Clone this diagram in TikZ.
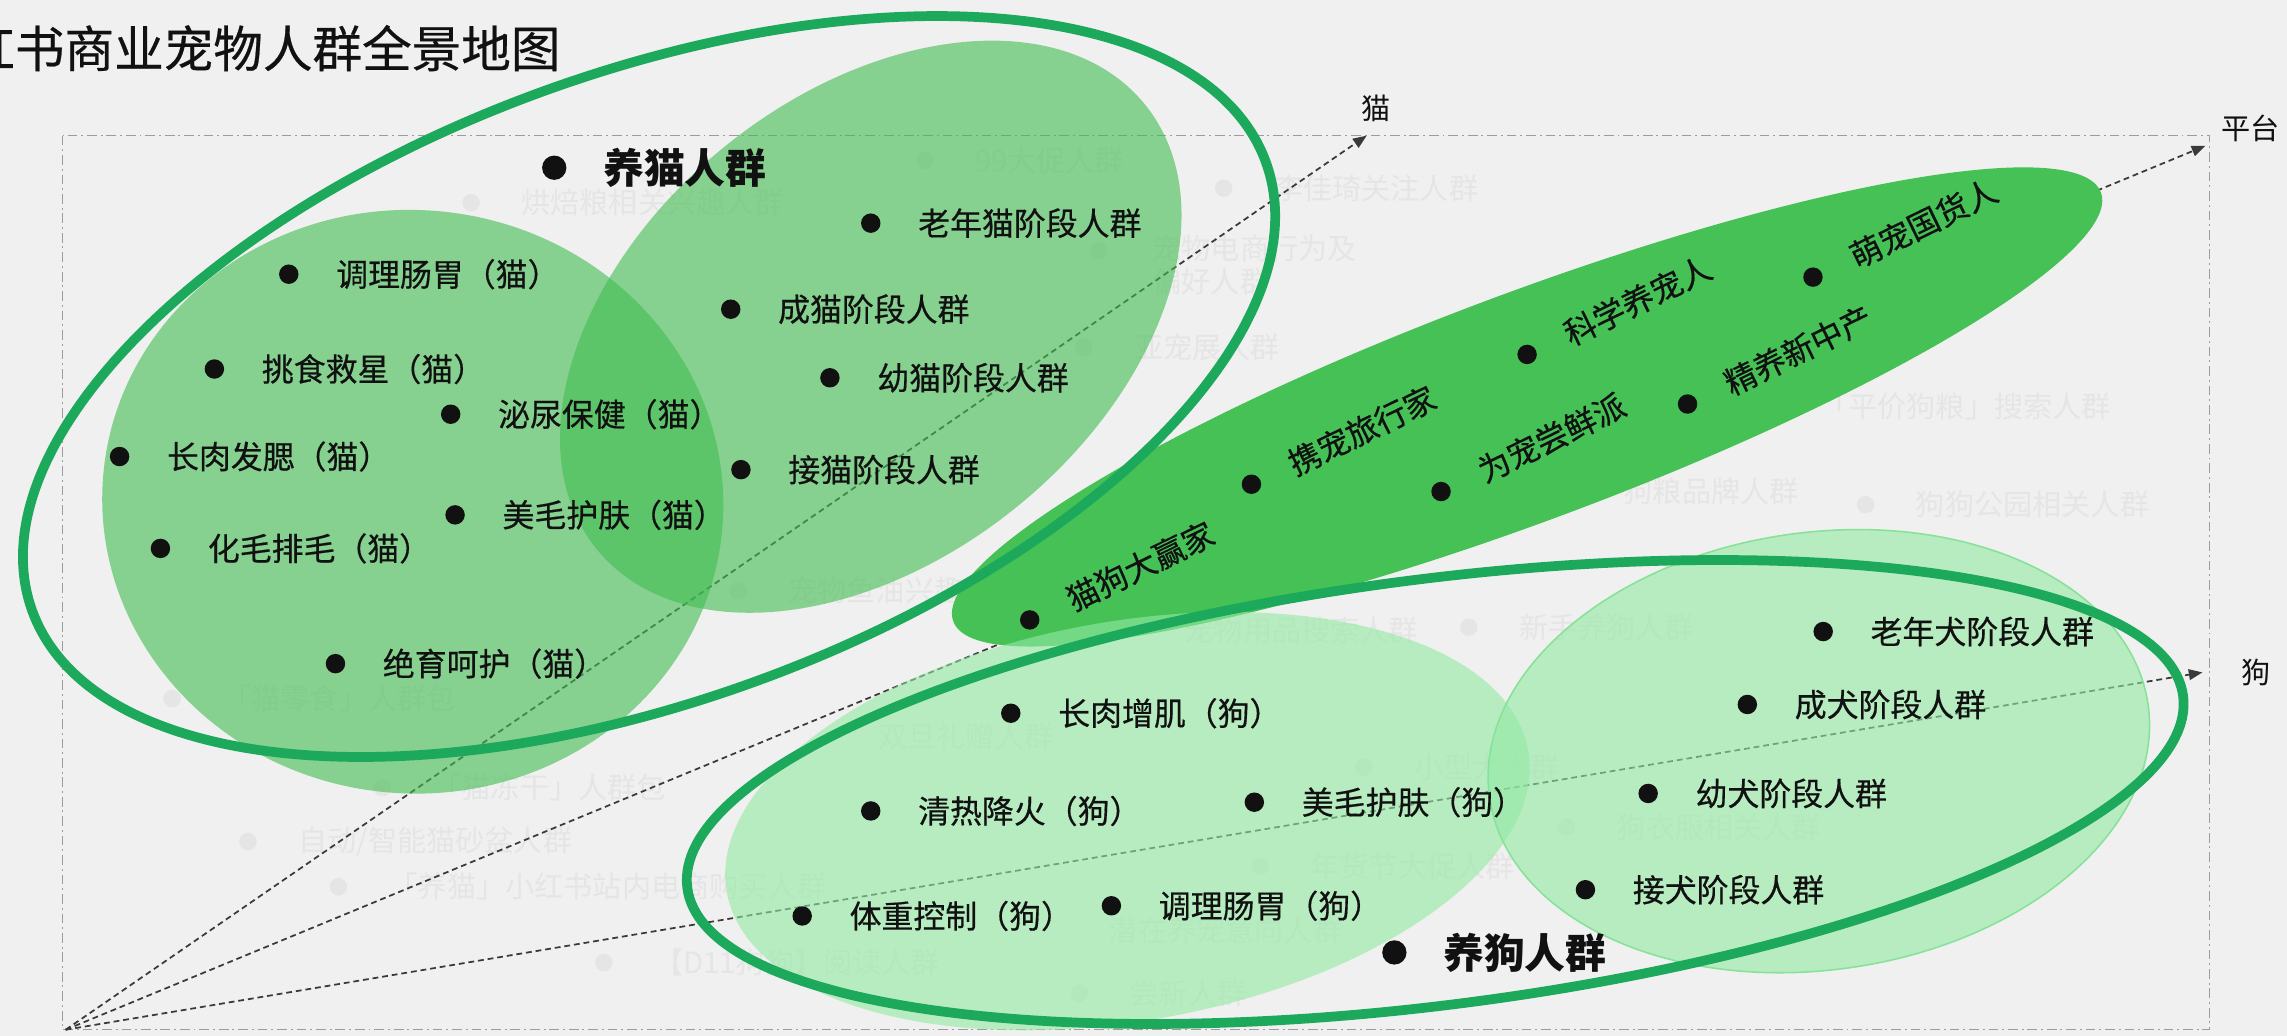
\documentclass[tikz,border=0pt]{standalone}
\usepackage{fontspec}
\setmainfont{Noto Sans CJK SC}
\newfontfamily\labelfont{Noto Sans CJK SC}[FakeBold=0.5]
\usetikzlibrary{arrows.meta, positioning}
\definecolor{petBg}{HTML}{F0F0F0}
\definecolor{petRing}{HTML}{1CA95B}
\definecolor{petCat}{HTML}{40BD51}
\definecolor{petMid}{HTML}{45C156}
\definecolor{petDog}{HTML}{92EAA3}
\definecolor{petDogEdge}{HTML}{86E298}
\definecolor{petFaint}{HTML}{E5E5E5}
\definecolor{petFrame}{HTML}{9C9C9C}
\definecolor{petInk}{HTML}{111111}
\definecolor{petAxis}{HTML}{3A3A3A}

\begin{document}
\begin{tikzpicture}[x=0.75pt, y=-0.75pt,
    dot/.style={circle, fill=petInk, inner sep=0pt, minimum size=10pt},
    bigdot/.style={dot, minimum size=12.5pt},
    lbl/.style={font=\labelfont\fontsize{16.4}{18}\selectfont, text=petInk, inner sep=0pt},
    biglbl/.style={lbl, font=\fontsize{21}{24}\selectfont\bfseries},
    tilt/.style={lbl, rotate=26, anchor=west},
    faint/.style={font=\fontsize{15}{17}\selectfont, text=petFaint, inner sep=0pt, anchor=west, align=left},
    fdot/.style={circle, fill=petFaint, inner sep=0pt, minimum size=9pt},
    axisline/.style={draw=petAxis, line width=0.9pt, dash pattern=on 3pt off 2pt, -{Triangle[length=7pt, width=5.5pt]}},
    axlbl/.style={font=\fontsize{15}{17}\selectfont, text=petInk, inner sep=0pt},
    ring/.style={draw=petRing, line width=5pt}]
  \useasboundingbox (0,0) rectangle (1568,710);
  \clip (0,0) rectangle (1568,710);
  \fill[petBg] (0,0) rectangle (1568,710);

  \node[font=\labelfont\fontsize{25.5}{28}\selectfont, text=petInk, inner sep=0pt, anchor=west] (title) at (-24,33) {红书商业宠物人群全景地图};

  % faded background groups
  \node[fdot] (f1) at (634,110) {};
  \node[faint, right=21pt of f1] (f1Lbl) {99大促人群};
  \node[fdot] (f2) at (839,129) {};
  \node[faint, right=21pt of f2] (f2Lbl) {李佳琦关注人群};
  \node[fdot] (f3) at (753,172) {};
  \node[faint, anchor=north west] (f3Lbl) at (790,161) {宠物电商行为及\\偏好人群};
  \node[fdot] (f4) at (743,238) {};
  \node[faint, right=21pt of f4] (f4Lbl) {亚宠展人群};
  \node[faint] (f5Lbl) at (1247,279) {「平价狗粮」搜索人群};
  \node[faint] (f6Lbl) at (1113,337) {狗粮品牌人群};
  \node[fdot] (f7) at (1279,346) {};
  \node[faint, right=21pt of f7] (f7Lbl) {狗狗公园相关人群};
  \node[fdot] (f8) at (1007,430) {};
  \node[faint, right=21pt of f8] (f8Lbl) {新手养狗人群};
  \node[faint] (f9Lbl) at (812,432) {宠物用品搜索人群};
  \node[fdot] (f10) at (935,526) {};
  \node[faint, right=21pt of f10] (f10Lbl) {小型犬人群};
  \node[fdot] (f11) at (1074,567) {};
  \node[faint, right=21pt of f11] (f11Lbl) {狗衣服相关人群};
  \node[fdot] (f12) at (864,594) {};
  \node[faint, right=21pt of f12] (f12Lbl) {年货节大促人群};
  \node[faint] (f13Lbl) at (760,638) {潜在养宠意向人群};
  \node[fdot] (f14) at (740,681) {};
  \node[faint, right=21pt of f14] (f14Lbl) {尝新人群};
  \node[faint] (f15Lbl) at (602,505) {双旦礼赠人群};
  \node[fdot] (f16) at (170,577) {};
  \node[faint, right=21pt of f16] (f16Lbl) {自动/智能猫砂盆人群};
  \node[fdot] (f17) at (232,608) {};
  \node[faint, right=21pt of f17] (f17Lbl) {「养猫」小红书站内电商购买人群};
  \node[fdot] (f18) at (414,660) {};
  \node[faint, right=21pt of f18] (f18Lbl) {【D11狗狗】阅读人群};
  \node[fdot] (f19) at (262,540) {};
  \node[faint, right=21pt of f19] (f19Lbl) {「猫冻干」人群包};
  \node[fdot] (f20) at (118,479) {};
  \node[faint, right=21pt of f20] (f20Lbl) {「猫零食」人群包};
  \node[fdot] (f21) at (506,405) {};
  \node[faint, right=21pt of f21] (f21Lbl) {宠物鱼油兴趣人群};
  \node[fdot] (f22) at (323,139) {};
  \node[faint, right=21pt of f22] (f22Lbl) {烘焙粮相关兴趣人群};

  \draw[petFrame, line width=0.6pt, dash pattern=on 5pt off 2pt on 1pt off 2pt] (43,93) rectangle (1515,706);

  \coordinate (o) at (45,706);
  \coordinate (catEnd) at (937,93);
  \coordinate (platEnd) at (1512,100);
  \coordinate (dogEnd) at (1510,461);
  \draw[axisline] (o) -- (catEnd);
  \draw[axisline] (o) -- (platEnd);
  \draw[axisline] (o) -- (dogEnd);
  \node[axlbl, above=7pt of catEnd, xshift=5pt] (catAx) {猫};
  \node[axlbl, anchor=west] (platAx) at ([shift={(8pt,9pt)}]platEnd) {平台};
  \node[axlbl, right=20pt of dogEnd] (dogAx) {狗};

  % groups
  \fill[petCat, fill opacity=0.6, rotate around={-5:(283,344)}] (283,344) ellipse [x radius=213, y radius=200];
  \fill[petCat, fill opacity=0.6, rotate around={39:(597,224)}] (597,224) ellipse [x radius=242, y radius=159];
  \fill[petMid, rotate around={20.5:(1047,279)}] (1047,279) ellipse [x radius=420, y radius=78];
  \fill[petDog, fill opacity=0.6, rotate around={10:(773,563)}] (773,563) ellipse [x radius=279, y radius=137];
  \filldraw[fill=petDog, fill opacity=0.6, draw=petDogEdge, line width=0.8pt, rotate around={8:(1247,515)}] (1247,515) ellipse [x radius=228, y radius=150];
  \draw[ring, rotate around={20:(445,265)}] (445,265) ellipse [x radius=450, y radius=215];
  \draw[ring, rotate around={7.3:(984,543)}] (984,543) ellipse [x radius=517, y radius=146];

  % cat side
  \node[bigdot] (catHead) at (380,115) {};
  \node[biglbl, right=18.5pt of catHead] (catHeadLbl) {养猫人群};
  \node[dot] (c1) at (597,153) {};
  \node[lbl, right=19pt of c1] (c1Lbl) {老年猫阶段人群};
  \node[dot] (c2) at (198,188) {};
  \node[lbl, right=19pt of c2] (c2Lbl) {调理肠胃（猫）};
  \node[dot] (c3) at (501,212) {};
  \node[lbl, right=19pt of c3] (c3Lbl) {成猫阶段人群};
  \node[dot] (c4) at (147,253) {};
  \node[lbl, right=19pt of c4] (c4Lbl) {挑食救星（猫）};
  \node[dot] (c5) at (569,259) {};
  \node[lbl, right=19pt of c5] (c5Lbl) {幼猫阶段人群};
  \node[dot] (c6) at (309,284) {};
  \node[lbl, right=19pt of c6] (c6Lbl) {泌尿保健（猫）};
  \node[dot] (c7) at (82,313) {};
  \node[lbl, right=19pt of c7] (c7Lbl) {长肉发腮（猫）};
  \node[dot] (c8) at (508,322) {};
  \node[lbl, right=19pt of c8] (c8Lbl) {接猫阶段人群};
  \node[dot] (c9) at (312,353) {};
  \node[lbl, right=19pt of c9] (c9Lbl) {美毛护肤（猫）};
  \node[dot] (c10) at (110,376) {};
  \node[lbl, right=19pt of c10] (c10Lbl) {化毛排毛（猫）};
  \node[dot] (c11) at (230,455) {};
  \node[lbl, right=19pt of c11] (c11Lbl) {绝育呵护（猫）};

  % shared
  \node[dot] (p1) at (706,425) {};
  \node[tilt] (p1Lbl) at ([shift={(26:22pt)}]p1.center) {猫狗大赢家};
  \node[dot] (p2) at (858,332) {};
  \node[tilt] (p2Lbl) at ([shift={(26:22pt)}]p2.center) {携宠旅行家};
  \node[dot] (p3) at (988,337) {};
  \node[tilt] (p3Lbl) at ([shift={(26:22pt)}]p3.center) {为宠尝鲜派};
  \node[dot] (p4) at (1047,243) {};
  \node[tilt] (p4Lbl) at ([shift={(26:22pt)}]p4.center) {科学养宠人};
  \node[dot] (p5) at (1157,277) {};
  \node[tilt] (p5Lbl) at ([shift={(26:22pt)}]p5.center) {精养新中产};
  \node[dot] (p6) at (1243,190) {};
  \node[tilt] (p6Lbl) at ([shift={(26:22pt)}]p6.center) {萌宠国货人};

  % dog side
  \node[dot] (d1) at (693,489) {};
  \node[lbl, right=19pt of d1] (d1Lbl) {长肉增肌（狗）};
  \node[dot] (d2) at (597,556) {};
  \node[lbl, right=19pt of d2] (d2Lbl) {清热降火（狗）};
  \node[dot] (d3) at (860,550) {};
  \node[lbl, right=19pt of d3] (d3Lbl) {美毛护肤（狗）};
  \node[dot] (d4) at (550,628) {};
  \node[lbl, right=19pt of d4] (d4Lbl) {体重控制（狗）};
  \node[dot] (d5) at (762,621) {};
  \node[lbl, right=19pt of d5] (d5Lbl) {调理肠胃（狗）};
  \node[bigdot] (dogHead) at (956,653) {};
  \node[biglbl, right=18.5pt of dogHead] (dogHeadLbl) {养狗人群};
  \node[dot] (d6) at (1250,433) {};
  \node[lbl, right=19pt of d6] (d6Lbl) {老年犬阶段人群};
  \node[dot] (d7) at (1198,483) {};
  \node[lbl, right=19pt of d7] (d7Lbl) {成犬阶段人群};
  \node[dot] (d8) at (1130,544) {};
  \node[lbl, right=19pt of d8] (d8Lbl) {幼犬阶段人群};
  \node[dot] (d9) at (1087,610) {};
  \node[lbl, right=19pt of d9] (d9Lbl) {接犬阶段人群};
\end{tikzpicture}
\end{document}
